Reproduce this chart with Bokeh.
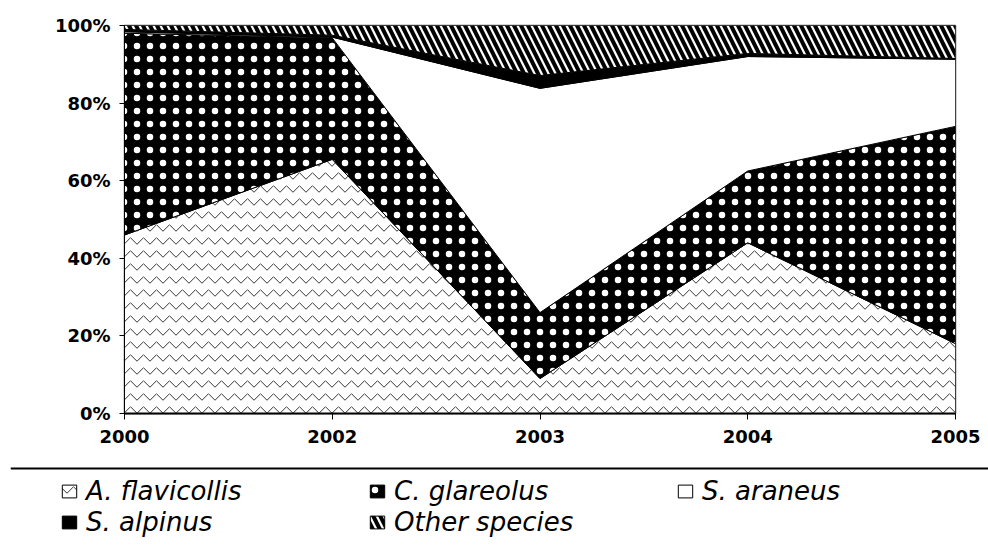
import numpy as np
from bokeh.plotting import figure
from bokeh.models import ColumnDataSource, Range1d, FixedTicker, Span, Legend, LegendItem
from bokeh.embed import file_html
from bokeh.resources import INLINE

# ---- data (percent of captures) ----
years = ["2000", "2002", "2003", "2004", "2005"]
species = ["A. flavicollis", "C. glareolus", "S. araneus", "S. alpinus", "Other species"]
a_flavicollis = [46.0, 65.5, 9.0, 44.0, 18.0]
c_glareolus = [52.0, 31.3, 17.0, 18.5, 56.0]
s_araneus = [0.4, 0.2, 57.8, 29.5, 17.3]
s_alpinus = [0.6, 0.5, 3.3, 0.8, 0.2]
other_species = [1.0, 2.5, 12.9, 7.2, 8.5]
y_ticks = [0, 20, 40, 60, 80, 100]
y_tick_labels = ["0%", "20%", "40%", "60%", "80%", "100%"]

series = [a_flavicollis, c_glareolus, s_araneus, s_alpinus, other_species]
styles = [
    dict(fill_color="white", hatch_pattern="horizontal_wave", hatch_color="#333333", hatch_scale=13, hatch_weight=1),
    dict(fill_color="black", hatch_pattern="dot", hatch_color="white", hatch_scale=13, hatch_weight=1),
    dict(fill_color="white"),
    dict(fill_color="black"),
    dict(fill_color="white", hatch_pattern="left_diagonal_line", hatch_color="black", hatch_scale=14, hatch_weight=4),
]

xs = list(range(len(years)))
vals = np.array(series, dtype=float)
tops = np.cumsum(vals, axis=0)
bottoms = np.vstack([np.zeros(len(years)), tops[:-1]])

FONT = "DejaVu Sans"

# ---------------- main chart ----------------
p = figure(width=980, height=460, x_range=Range1d(0, len(years) - 1), y_range=Range1d(0, 100),
           toolbar_location=None, output_backend="svg",
           min_border_left=124, min_border_right=25, min_border_top=25, min_border_bottom=47)

sources = []
for i in range(5):
    px = xs + xs[::-1]
    py = list(tops[i]) + list(bottoms[i][::-1])
    src = ColumnDataSource({"x": px, "y": py})
    sources.append(src)
    p.patch(x="x", y="y", source=src, line_color="black", line_width=1, **styles[i])

p.grid.grid_line_color = None
p.outline_line_color = "#555555"
p.outline_line_width = 1.5

p.xaxis.ticker = FixedTicker(ticks=xs)
p.xaxis.major_label_overrides = {i: y for i, y in zip(xs, years)}
p.xaxis.axis_line_width = 2
p.xaxis.major_tick_out = 6
p.xaxis.major_tick_in = 0
p.xaxis.minor_tick_line_color = None
p.xaxis.major_label_standoff = 10

p.yaxis.ticker = FixedTicker(ticks=y_ticks)
p.yaxis.major_label_overrides = {t: l for t, l in zip(y_ticks, y_tick_labels)}
p.yaxis.major_tick_out = 5
p.yaxis.major_tick_in = 0
p.yaxis.minor_tick_line_color = None
p.yaxis.major_label_standoff = 9

for ax in (p.xaxis, p.yaxis):
    ax.major_label_text_font = FONT
    ax.major_label_text_font_style = "bold"
    ax.major_label_text_font_size = "18px"
    ax.major_label_text_color = "black"
    ax.axis_line_color = "black"
    ax.major_tick_line_color = "black"

# ---------------- legend strip (separate root) ----------------
p2 = figure(width=988, height=85, x_range=Range1d(-10, -9), y_range=Range1d(0, 1),
            toolbar_location=None, output_backend="svg",
            x_axis_location=None, y_axis_location=None, min_border=0, min_border_left=10)
p2.grid.grid_line_color = None
p2.outline_line_color = None
p2.add_layout(Span(location=0.906, dimension="width", line_color="black", line_width=2))

items = []
for name, st, src in zip(species, styles, sources):
    r = p2.patch(x="x", y="y", source=src, line_color="black", line_width=1, **st)
    items.append(LegendItem(label=name, renderers=[r]))

legend = Legend(items=items, ncols=3, location=(50, 8), orientation="horizontal",
                glyph_width=18, glyph_height=16, label_standoff=8, label_width=281, spacing=1,
                padding=0, margin=0, border_line_color=None, background_fill_alpha=0,
                label_text_font=FONT, label_text_font_style="italic", label_text_font_size="26px",
                label_text_color="black")
p2.add_layout(legend)

open("out.html", "w").write(file_html([p, p2], INLINE))
